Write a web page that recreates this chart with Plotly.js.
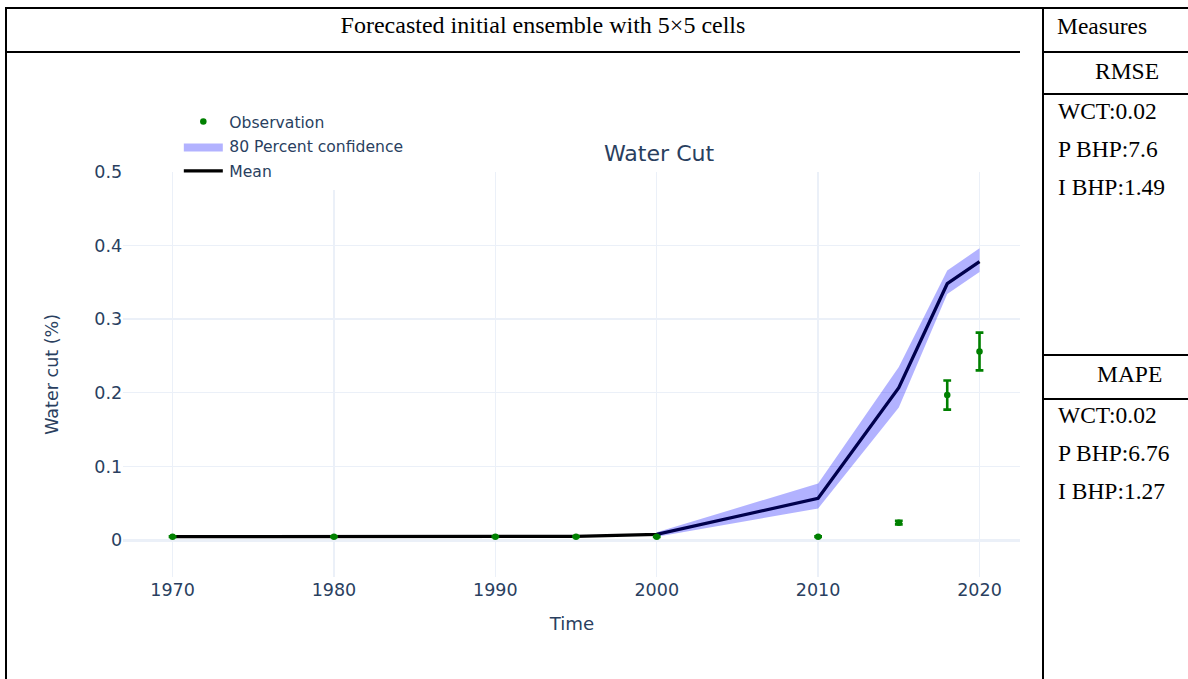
<!DOCTYPE html>
<html>
<head>
<meta charset="utf-8">
<script src="https://cdn.plot.ly/plotly-3.0.1.min.js"></script>
<style>
  html, body { margin: 0; padding: 0; background: #fff; }
  #page { position: relative; width: 1188px; height: 679px; overflow: hidden; background: #fff; }
  /* chart is laid out at 1/1.3 size and scaled up as a whole */
  #chart { position: absolute; left: 0; top: 0; width: 914px; height: 522px;
           transform: scale(1.3); transform-origin: 0 0; }
  #table { position: absolute; left: 0; top: 0; pointer-events: none; }
  #table text { font-family: "Liberation Serif", "Times New Roman", serif; font-size: 23.5px; fill: #000; }
  #table text.head { font-size: 24px; }
  #table line { stroke: #000; stroke-width: 2; }
</style>
</head>
<body>
<div id="page">
  <div id="chart"></div>
  <svg id="table" width="1188" height="679" xmlns="http://www.w3.org/2000/svg">
    <line x1="5" y1="8" x2="1188" y2="8"/>
    <line x1="6" y1="7" x2="6" y2="679"/>
    <line x1="1043" y1="7" x2="1043" y2="679"/>
    <line x1="5" y1="52" x2="1020" y2="52"/>
    <line x1="1043" y1="52" x2="1188" y2="52"/>
    <line x1="1043" y1="94" x2="1188" y2="94"/>
    <line x1="1043" y1="355" x2="1188" y2="355"/>
    <line x1="1043" y1="399" x2="1188" y2="399"/>
    <text class="head" x="543" y="33" text-anchor="middle">Forecasted initial ensemble with 5×5 cells</text>
    <text x="1057" y="34">Measures</text>
    <text x="1095" y="79">RMSE</text>
    <text x="1058" y="119">WCT:0.02</text>
    <text x="1058" y="157">P BHP:7.6</text>
    <text x="1058" y="195">I BHP:1.49</text>
    <text x="1097" y="382">MAPE</text>
    <text x="1058" y="423">WCT:0.02</text>
    <text x="1058" y="461">P BHP:6.76</text>
    <text x="1058" y="499">I BHP:1.27</text>
  </svg>
</div>
<script>
// Water cut history: ensemble mean, 80 % band and observed values
const years     = [1970, 1980, 1990, 1995, 2000, 2010, 2015, 2018, 2020];
const meanCut   = [0.005, 0.005, 0.005, 0.0055, 0.008, 0.057, 0.207, 0.348, 0.378];
const obsCut    = [0.005, 0.005, 0.005, 0.005, 0.005, 0.005, 0.024, 0.197, 0.256];
const bandYears = [2000, 2010, 2015, 2018, 2020];
const bandLower = [0.005, 0.043, 0.180, 0.334, 0.364];
const bandUpper = [0.011, 0.077, 0.235, 0.366, 0.396];
const obsErrorPct = 10;

const meanTrace = {
  x: years, y: meanCut, mode: 'lines', name: 'Mean',
  line: { color: 'black', width: 2.5 }, legendrank: 3
};
const bandTrace = {
  x: bandYears.concat(bandYears.slice().reverse()),
  y: bandUpper.concat(bandLower.slice().reverse()),
  mode: 'lines', fill: 'toself', fillcolor: 'rgba(0,0,255,0.3)',
  line: { width: 0, color: 'rgba(0,0,255,0.3)' },
  name: '80 Percent confidence', legendrank: 2
};
const obsTrace = {
  x: years, y: obsCut, mode: 'markers', name: 'Observation',
  marker: { color: 'green', size: 5 },
  error_y: { type: 'percent', value: obsErrorPct, color: 'green', thickness: 2, width: 3 },
  legendrank: 1
};

const layout = {
  width: 914, height: 522,
  margin: { l: 95.4, r: 129.4, t: 131.5, b: 78.2, pad: 0 },
  paper_bgcolor: 'white', plot_bgcolor: 'white',
  font: { family: 'DejaVu Sans, Verdana, sans-serif', color: '#2a3f5f', size: 12 },
  title: { text: 'Water Cut', font: { size: 17 },
           xref: 'container', x: 0.5547, xanchor: 'center',
           yref: 'container', y: 0.7745, yanchor: 'middle' },
  xaxis: { title: { text: 'Time', font: { size: 14 }, standoff: 14 },
           range: [1966.96, 2022.54], tick0: 1970, dtick: 10,
           gridcolor: '#EBF0F8', zeroline: false, showline: false, ticks: '',
           tickfont: { size: 13.5 } },
  yaxis: { title: { text: 'Water cut (%)', font: { size: 13.5 }, standoff: 24 },
           range: [-0.05, 0.5], tick0: 0, dtick: 0.1,
           gridcolor: '#EBF0F8', zeroline: true, zerolinecolor: '#EBF0F8', zerolinewidth: 2,
           showline: false, ticks: '', tickfont: { size: 13.5 } },
  legend: { x: 0.06, y: 1.17, xanchor: 'left', yanchor: 'top', bgcolor: 'white',
            font: { size: 12 } },
  showlegend: true
};

Plotly.newPlot('chart', [meanTrace, bandTrace, obsTrace], layout,
               { staticPlot: true, displayModeBar: false });
</script>
</body>
</html>
